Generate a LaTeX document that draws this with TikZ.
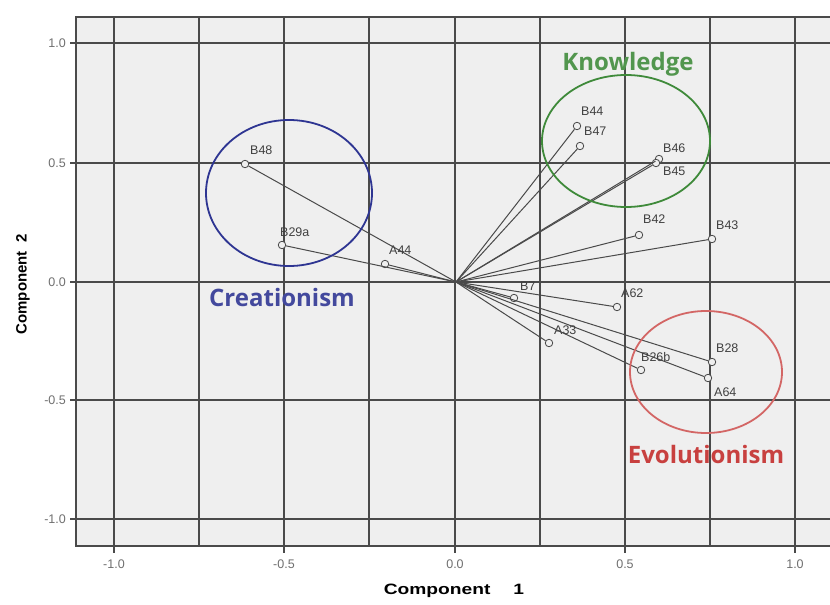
\documentclass[tikz,border=0pt]{standalone}
\usepackage{graphicx}
\usepackage{fontspec}
\setmainfont{Liberation Sans}
\newfontfamily\grpfont{Open Sans}
\definecolor{bggray}{HTML}{EFEFEF}
\definecolor{gridc}{HTML}{4A4A4A}
\definecolor{ptc}{HTML}{4A4A4A}
\definecolor{creac}{HTML}{2E3592}
\definecolor{knowc}{HTML}{3F8A3A}
\definecolor{evoc}{HTML}{C8403F}
\definecolor{ticklab}{HTML}{707070}
\begin{document}
\begin{tikzpicture}[x=1pt,y=-1pt,
  gridline/.style={gridc,line width=1.6pt},
  frameline/.style={gridc,line width=2pt},
  pt/.style={circle,draw=ptc,line width=0.8pt,inner sep=0pt,minimum size=7.5pt,fill=bggray},
  vec/.style={draw=ptc,line width=1pt},
  plab/.style={font=\fontsize{12.5}{13}\selectfont,text=black!75,inner sep=0pt},
  tlab/.style={font=\fontsize{12.5}{13}\selectfont,text=ticklab,inner sep=0pt},
  grp/.style={font=\grpfont\bfseries\fontsize{24}{26}\selectfont,inner sep=0pt},
  ring/.style={line width=1.8pt}
]
\useasboundingbox (0,0) rectangle (830,605);
\fill[white] (0,0) rectangle (830,605);
\fill[bggray] (76,17) rectangle (830,546);
% grid
\foreach \gx in {199,369,540,710}
  \draw[gridline] (\gx,17) -- (\gx,546);
\foreach \gx in {114,284,455,625,795}
  \draw[gridline] (\gx,17) -- (\gx,553);
\foreach \gy in {43,163,282,400,519}
  \draw[gridline] (70,\gy) -- (830,\gy);
% frame
\draw[frameline] (830,17) -- (76,17) -- (76,546) -- (830,546);
% tick labels
\node[tlab,anchor=east] (ty1) at (66,43) {1.0};
\node[tlab,anchor=east] (ty2) at (66,163) {0.5};
\node[tlab,anchor=east] (ty3) at (66,282) {0.0};
\node[tlab,anchor=east] (ty4) at (66,400) {-0.5};
\node[tlab,anchor=east] (ty5) at (66,519) {-1.0};
\node[tlab] (tx1) at (114,564) {-1.0};
\node[tlab] (tx2) at (284,564) {-0.5};
\node[tlab] (tx3) at (455,564) {0.0};
\node[tlab] (tx4) at (625,564) {0.5};
\node[tlab] (tx5) at (795,564) {1.0};
% axis titles
\node[font=\bfseries\fontsize{15}{16}\selectfont,inner sep=0pt] (xt) at (454,591) {\scalebox{1.28}[1]{Component\hspace{1.2em}1}};
\node[font=\bfseries\fontsize{15}{16}\selectfont,inner sep=0pt,rotate=90] (yt) at (23,284) {Component\hspace{0.6em}2};
% origin
\coordinate (O) at (456,282);
% points
\node[pt] (B48) at (245,164) {};
\node[pt] (B29a) at (282,245) {};
\node[pt] (A44) at (385,264) {};
\node[pt] (B44) at (577,126) {};
\node[pt] (B47) at (580,146) {};
\node[pt] (B46) at (659,159) {};
\node[pt] (B45) at (656,163) {};
\node[pt] (B42) at (639,235) {};
\node[pt] (B43) at (712,239) {};
\node[pt] (B7) at (514,298) {};
\node[pt] (A62) at (617,307) {};
\node[pt] (A33) at (549,343) {};
\node[pt] (B26b) at (641,370) {};
\node[pt] (B28) at (712,362) {};
\node[pt] (A64) at (708,378) {};
% vectors
\foreach \p in {B48,B29a,A44,B44,B47,B46,B45,B42,B43,B7,A62,A33,B26b,B28,A64}
  \draw[vec] (O) -- (\p);
% labels
\node[plab,anchor=west] (lB48) at (250,150) {B48};
\node[plab,anchor=west] (lB29a) at (280,232) {B29a};
\node[plab,anchor=west] (lA44) at (389,250) {A44};
\node[plab,anchor=west] (lB44) at (581,111) {B44};
\node[plab,anchor=west] (lB47) at (584,131) {B47};
\node[plab,anchor=west] (lB46) at (663,148) {B46};
\node[plab,anchor=west] (lB45) at (663,171) {B45};
\node[plab,anchor=west] (lB42) at (643,219) {B42};
\node[plab,anchor=west] (lB43) at (716,225) {B43};
\node[plab,anchor=west] (lB7) at (520,286) {B7};
\node[plab,anchor=west] (lA62) at (621,293) {A62};
\node[plab,anchor=west] (lA33) at (554,330) {A33};
\node[plab,anchor=west] (lB26b) at (641,357) {B26b};
\node[plab,anchor=west] (lB28) at (716,348) {B28};
\node[plab,anchor=west] (lA64) at (714,392) {A64};
% group circles
\draw[ring,creac] (289,193) ellipse [x radius=83,y radius=73];
\draw[ring,knowc] (626,141) ellipse [x radius=84,y radius=66];
\draw[ring,evoc!80] (706,372) ellipse [x radius=76,y radius=61];
% group labels
\node[grp,text=creac!90] (gC) at (282,297) {Creationism};
\node[grp,text=knowc!90!white] (gK) at (628,64) {Knowledge};
\node[grp,text=evoc] (gE) at (706,454) {Evolutionism};
\end{tikzpicture}
\end{document}
